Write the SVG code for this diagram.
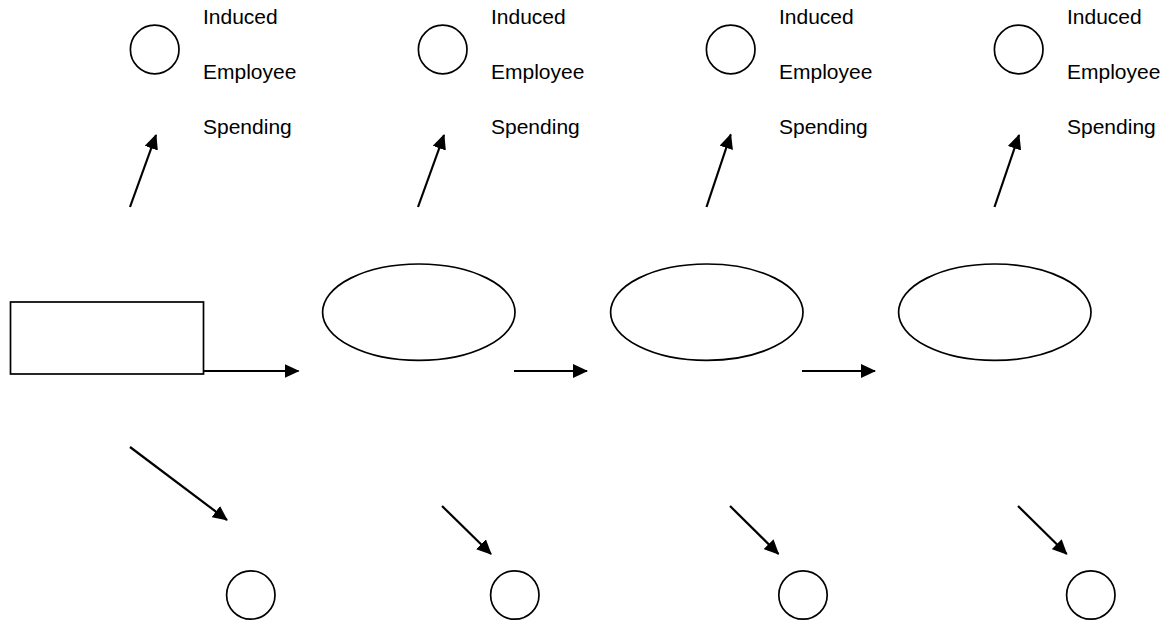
<svg xmlns="http://www.w3.org/2000/svg" width="1169" height="624" viewBox="0 0 1169 624">
<style>
.shape{fill:#fff;stroke:#000;stroke-width:1.7}
.lbl{font-family:"Liberation Sans",Arial,sans-serif;font-size:21px;fill:#000}
.conn line{stroke:#000;stroke-width:2.2;marker-end:url(#ah)}
</style>
<defs>
<marker id="ah" viewBox="0 0 15 14" refX="14" refY="7" markerWidth="15" markerHeight="14" markerUnits="userSpaceOnUse" orient="auto">
<path d="M0,0 L15,7 L0,14 z" fill="#000"/>
</marker>
</defs>
<rect width="1169" height="624" fill="#fff"/>
<g id="top1"><circle class="shape" cx="154.7" cy="49.5" r="24.3"/><text class="lbl" x="203" y="23.5">Induced</text><text class="lbl" x="203" y="78.5">Employee</text><text class="lbl" x="203" y="133.5">Spending</text></g>
<g id="top2"><circle class="shape" cx="442.7" cy="49.5" r="24.3"/><text class="lbl" x="491" y="23.5">Induced</text><text class="lbl" x="491" y="78.5">Employee</text><text class="lbl" x="491" y="133.5">Spending</text></g>
<g id="top3"><circle class="shape" cx="730.7" cy="49.5" r="24.3"/><text class="lbl" x="779" y="23.5">Induced</text><text class="lbl" x="779" y="78.5">Employee</text><text class="lbl" x="779" y="133.5">Spending</text></g>
<g id="top4"><circle class="shape" cx="1018.7" cy="49.5" r="24.3"/><text class="lbl" x="1067" y="23.5">Induced</text><text class="lbl" x="1067" y="78.5">Employee</text><text class="lbl" x="1067" y="133.5">Spending</text></g>
<g id="start"><rect class="shape" x="10.5" y="302" width="193" height="72"/></g>
<g id="stage1"><ellipse class="shape" cx="418.8" cy="312.2" rx="96.2" ry="48.2"/></g>
<g id="stage2"><ellipse class="shape" cx="706.8" cy="312.2" rx="96.2" ry="48.2"/></g>
<g id="stage3"><ellipse class="shape" cx="994.8" cy="312.2" rx="96.2" ry="48.2"/></g>
<g id="bottom1"><circle class="shape" cx="250.8" cy="595" r="24.2"/></g>
<g id="bottom2"><circle class="shape" cx="514.8" cy="595" r="24.2"/></g>
<g id="bottom3"><circle class="shape" cx="803" cy="595" r="24.2"/></g>
<g id="bottom4"><circle class="shape" cx="1090.8" cy="595" r="24.2"/></g>
<g id="connectors" class="conn">
<line x1="130" y1="207" x2="156" y2="135"/>
<line x1="418" y1="207" x2="444" y2="135"/>
<line x1="706.5" y1="207" x2="730.7" y2="134.5"/>
<line x1="994.5" y1="207" x2="1019" y2="135"/>
<line x1="203" y1="371" x2="298.5" y2="371"/>
<line x1="514" y1="371" x2="587" y2="371"/>
<line x1="802" y1="371" x2="875" y2="371"/>
<line x1="130" y1="447" x2="227" y2="520"/>
<line x1="442" y1="506" x2="491" y2="554"/>
<line x1="730" y1="506" x2="778.5" y2="554"/>
<line x1="1018" y1="506" x2="1066.7" y2="554"/>
</g>
</svg>
